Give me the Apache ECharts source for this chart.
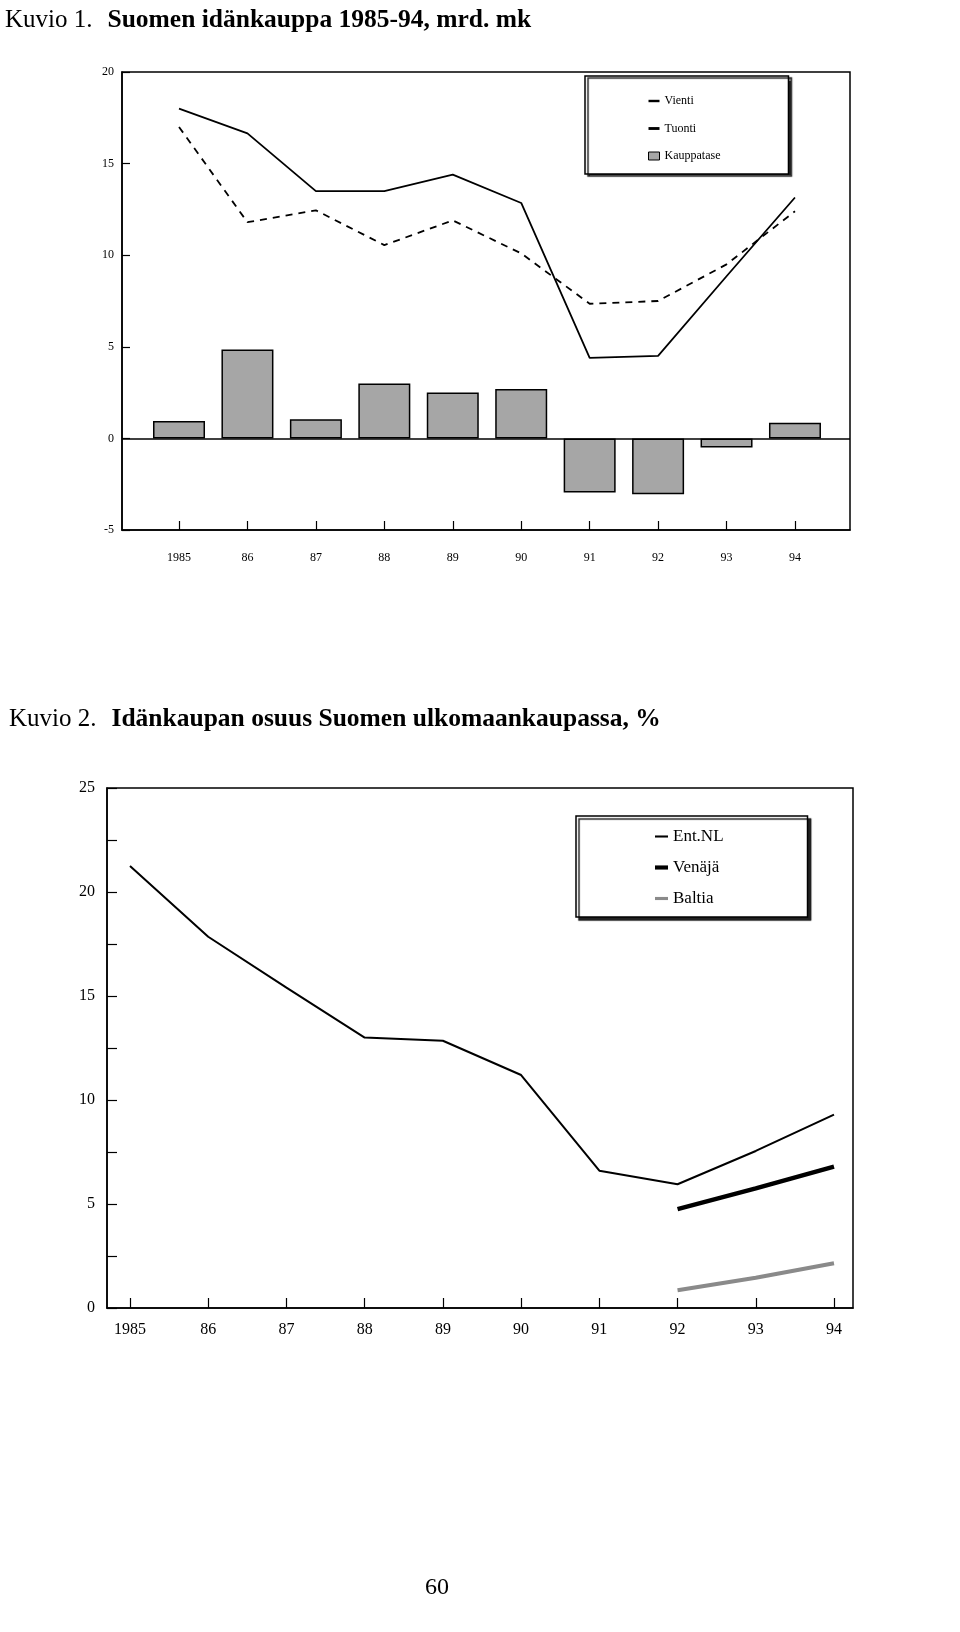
<!DOCTYPE html>
<html><head><meta charset="utf-8">
<script src="https://cdn.jsdelivr.net/npm/echarts@6/dist/echarts.min.js"></script>
<style>html,body{margin:0;padding:0;background:#fff}#c{width:960px;height:1632px}</style>
</head><body><div id="c"></div>
<script>
// ---- data ----
const years = [1985, 1986, 1987, 1988, 1989, 1990, 1991, 1992, 1993, 1994];
const yearLabels = ['1985', '86', '87', '88', '89', '90', '91', '92', '93', '94'];
// Kuvio 1: mrd. mk
const vienti = [18.0, 16.65, 13.5, 13.5, 14.4, 12.85, 4.4, 4.5, 8.85, 13.15];
const tuonti = [17.0, 11.8, 12.45, 10.55, 11.9, 10.1, 7.35, 7.5, 9.5, 12.4];
const kauppatase = [0.95, 4.85, 1.05, 3.0, 2.5, 2.7, -2.95, -3.05, -0.5, 0.85];
const topYTicks = [-5, 0, 5, 10, 15, 20];
// Kuvio 2: %
const entNL = [21.25, 17.85, 15.4, 13.0, 12.85, 11.2, 6.6, 5.95, 7.55, 9.3];
const venaja = [null, null, null, null, null, null, null, 4.75, 5.75, 6.8];
const baltia = [null, null, null, null, null, null, null, 0.85, 1.45, 2.15];
const bottomYTicks = [0, 5, 10, 15, 20, 25];

// ---- helpers ----
const pairs = arr => years.map((y, i) => [y, arr[i]]).filter(p => p[1] !== null);
const yearLabel = v => { const i = years.indexOf(Math.round(v)); return i >= 0 ? yearLabels[i] : ''; };
const FONT = 'Liberation Serif';
const bar = h => 'path://M0,0H10V' + h + 'H0Z';

const chart = echarts.init(document.getElementById('c'));
chart.setOption({
  animation: false,
  backgroundColor: '#fff',
  title: [
    { text: '{a|Kuvio 1.}   {b|Suomen idänkauppa 1985-94, mrd. mk}', left: 0, top: 2,
      textStyle: { rich: {
        a: { fontFamily: FONT, fontSize: 25, fontWeight: 'normal', color: '#000' },
        b: { fontFamily: FONT, fontSize: 25.5, fontWeight: 'bold', color: '#000' } } } },
    { text: '{a|Kuvio 2.}   {b|Idänkaupan osuus Suomen ulkomaankaupassa, %}', left: 4, top: 701,
      textStyle: { rich: {
        a: { fontFamily: FONT, fontSize: 25, fontWeight: 'normal', color: '#000' },
        b: { fontFamily: FONT, fontSize: 25.5, fontWeight: 'bold', color: '#000' } } } },
    { text: '60', left: 420, top: 1571, textStyle: { fontFamily: FONT, fontSize: 24, fontWeight: 'normal', color: '#000' } }
  ],
  grid: [
    { left: 122, top: 72, width: 728, height: 458, show: true, borderColor: '#000', borderWidth: 1.5, backgroundColor: 'transparent' },
    { left: 107, top: 788, width: 746, height: 520, show: true, borderColor: '#000', borderWidth: 1.5, backgroundColor: 'transparent' }
  ],
  legend: [
    { data: [
        { name: 'Vienti', icon: bar(2.2), itemStyle: { color: '#000', borderWidth: 0 } },
        { name: 'Tuonti', icon: bar(2.6), itemStyle: { color: '#000', borderWidth: 0 } },
        { name: 'Kauppatase', icon: 'rect', itemStyle: { color: '#a6a6a6', borderColor: '#000', borderWidth: 1 } }
      ],
      orient: 'vertical', left: 585, top: 76,
      padding: [19, 68, 12, 63], itemGap: 15.5, itemWidth: 11, itemHeight: 8,
      backgroundColor: '#fff', borderColor: '#000', borderWidth: 1.5,
      shadowColor: '#222', shadowBlur: 1, shadowOffsetX: 3, shadowOffsetY: 2,
      textStyle: { fontFamily: FONT, fontSize: 12, color: '#000' } },
    { data: [
        { name: 'Ent.NL', icon: bar(1.6), itemStyle: { color: '#000', borderWidth: 0 } },
        { name: 'Venäjä', icon: bar(3.2), itemStyle: { color: '#000', borderWidth: 0 } },
        { name: 'Baltia', icon: bar(2.4), itemStyle: { color: '#8a8a8a', borderWidth: 0 } }
      ],
      orient: 'vertical', left: 576, top: 816,
      padding: [12, 84, 10, 79], itemGap: 14, itemWidth: 13, itemHeight: 8,
      backgroundColor: '#fff', borderColor: '#000', borderWidth: 1.5,
      shadowColor: '#222', shadowBlur: 1, shadowOffsetX: 3, shadowOffsetY: 3,
      textStyle: { fontFamily: FONT, fontSize: 17, color: '#000' } }
  ],
  xAxis: [
    { type: 'value', gridIndex: 0, min: 1984.167, max: 1994.804,
      axisLine: { show: true, onZero: false, lineStyle: { color: '#000', width: 1.5 } },
      splitLine: { show: false },
      axisTick: { show: true, inside: true, length: 9, customValues: years, lineStyle: { color: '#000', width: 1.2 } },
      axisLabel: { customValues: years, formatter: yearLabel, margin: 22, fontFamily: FONT, fontSize: 12, color: '#000' } },
    { type: 'value', gridIndex: 1, min: 1984.706, max: 1994.243,
      axisLine: { show: true, onZero: false, lineStyle: { color: '#000', width: 1.5 } },
      splitLine: { show: false },
      axisTick: { show: true, inside: true, length: 10, customValues: years, lineStyle: { color: '#000', width: 1.2 } },
      axisLabel: { customValues: years, formatter: yearLabel, margin: 14, fontFamily: FONT, fontSize: 16, color: '#000' } }
  ],
  yAxis: [
    { type: 'value', gridIndex: 0, min: -5, max: 20, interval: 5,
      axisLine: { show: true, lineStyle: { color: '#000', width: 1.5 } },
      splitLine: { show: false },
      axisTick: { show: true, inside: true, length: 8, lineStyle: { color: '#000', width: 1.2 } },
      axisLabel: { margin: 8, fontFamily: FONT, fontSize: 12, color: '#000',
        formatter: v => topYTicks.includes(v) ? String(v) : '' } },
    { type: 'value', gridIndex: 1, min: 0, max: 25, interval: 2.5,
      axisLine: { show: true, lineStyle: { color: '#000', width: 1.5 } },
      splitLine: { show: false },
      axisTick: { show: true, inside: true, length: 10, lineStyle: { color: '#000', width: 1.2 } },
      axisLabel: { margin: 12, fontFamily: FONT, fontSize: 16, color: '#000',
        formatter: v => bottomYTicks.includes(v) ? String(v) : '' } }
  ],
  series: [
    { name: 'Kauppatase', type: 'bar', xAxisIndex: 0, yAxisIndex: 0, data: pairs(kauppatase),
      barWidth: 52, itemStyle: { color: '#a6a6a6', borderColor: '#000', borderWidth: 1.5 },
      markLine: { silent: true, symbol: 'none', label: { show: false },
        lineStyle: { color: '#000', width: 1.5, type: 'solid' }, data: [{ yAxis: 0 }] } },
    { name: 'Vienti', type: 'line', xAxisIndex: 0, yAxisIndex: 0, data: pairs(vienti),
      symbol: 'none', lineStyle: { color: '#000', width: 1.8 }, itemStyle: { color: '#000' } },
    { name: 'Tuonti', type: 'line', xAxisIndex: 0, yAxisIndex: 0, data: pairs(tuonti),
      symbol: 'none', lineStyle: { color: '#000', width: 1.8, type: [7, 6] }, itemStyle: { color: '#000' } },
    { name: 'Ent.NL', type: 'line', xAxisIndex: 1, yAxisIndex: 1, data: pairs(entNL),
      symbol: 'none', lineStyle: { color: '#000', width: 2 }, itemStyle: { color: '#000' } },
    { name: 'Venäjä', type: 'line', xAxisIndex: 1, yAxisIndex: 1, data: pairs(venaja),
      symbol: 'none', lineStyle: { color: '#000', width: 4.5 }, itemStyle: { color: '#000' } },
    { name: 'Baltia', type: 'line', xAxisIndex: 1, yAxisIndex: 1, data: pairs(baltia),
      symbol: 'none', lineStyle: { color: '#8a8a8a', width: 4 }, itemStyle: { color: '#8a8a8a' } }
  ]
});
</script>
</body></html>
